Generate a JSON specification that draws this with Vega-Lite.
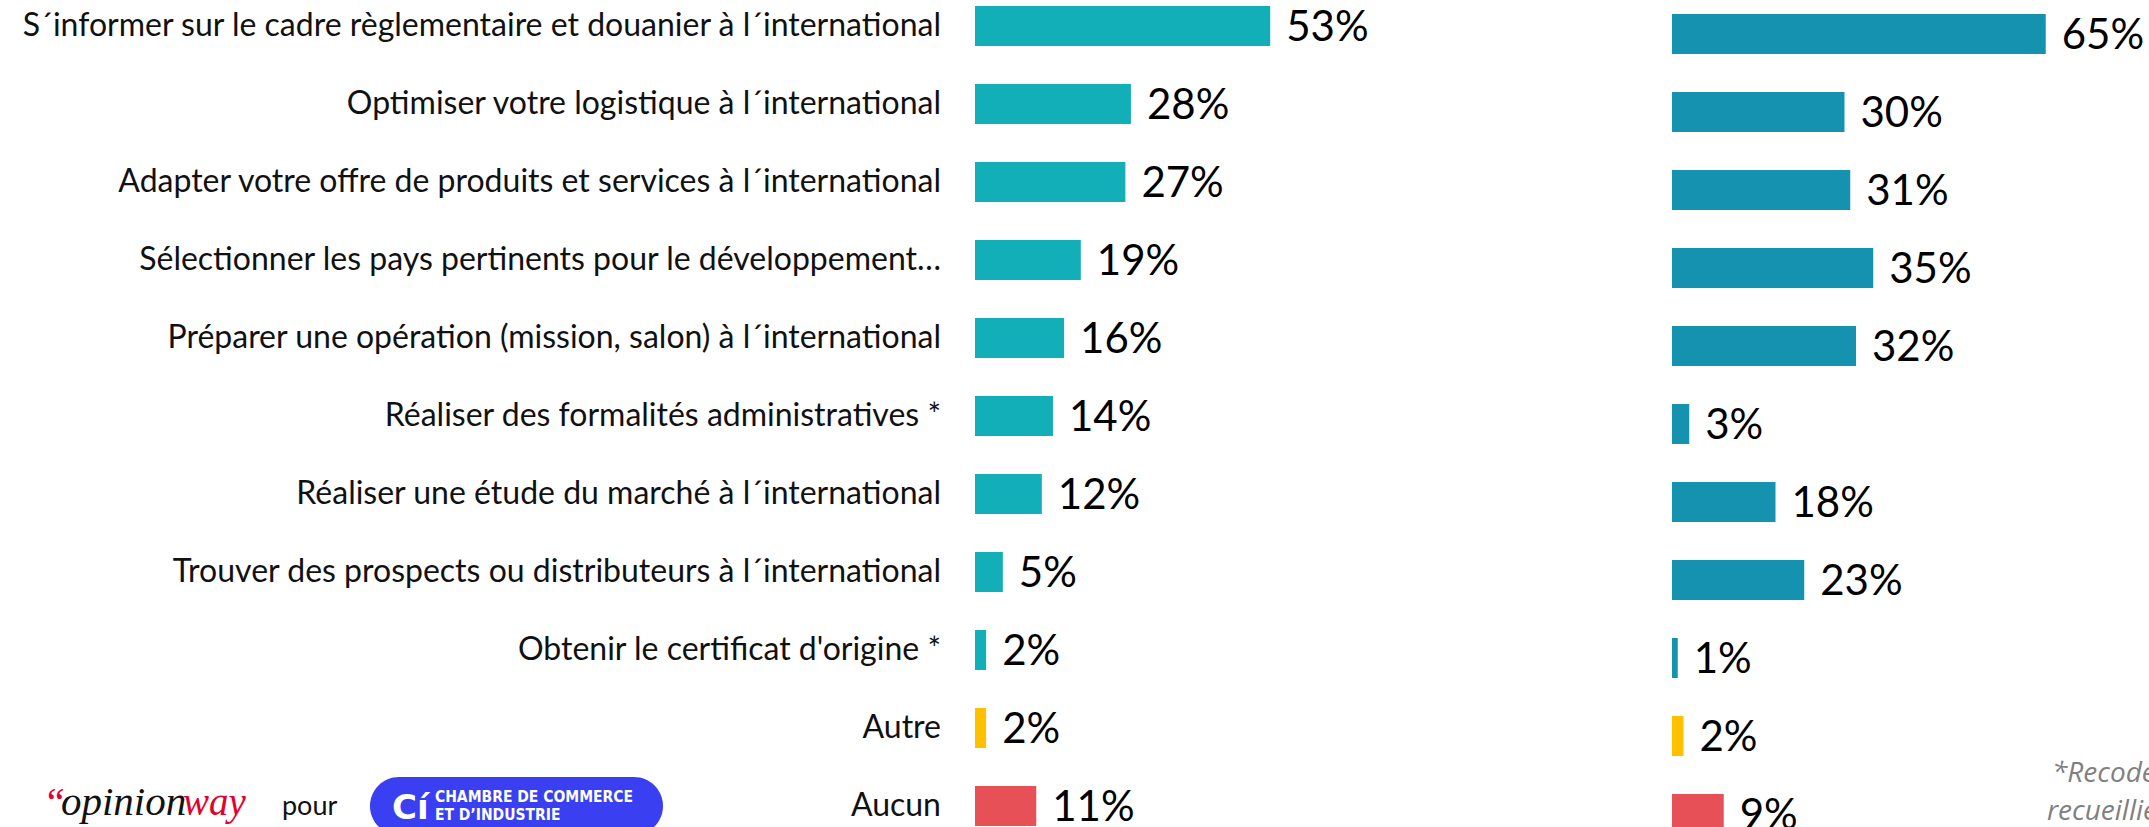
{
  "$schema": "https://vega.github.io/schema/vega-lite/v6.json",
  "width": 2149,
  "height": 827,
  "padding": 0,
  "autosize": {"type": "none"},
  "background": "white",
  "config": {"view": {"stroke": null}, "font": "Lato"},
  "data": {
    "values": [
      {"item": "S´informer sur le cadre règlementaire et douanier à l´international", "kind": "main", "left": 0.53, "right": 0.65},
      {"item": "Optimiser votre logistique à l´international", "kind": "main", "left": 0.28, "right": 0.30},
      {"item": "Adapter votre offre de produits et services à l´international", "kind": "main", "left": 0.27, "right": 0.31},
      {"item": "Sélectionner les pays pertinents pour le développement…", "kind": "main", "left": 0.19, "right": 0.35},
      {"item": "Préparer une opération (mission, salon) à l´international", "kind": "main", "left": 0.16, "right": 0.32},
      {"item": "Réaliser des formalités administratives *", "kind": "main", "left": 0.14, "right": 0.03},
      {"item": "Réaliser une étude du marché à l´international", "kind": "main", "left": 0.12, "right": 0.18},
      {"item": "Trouver des prospects ou distributeurs à l´international", "kind": "main", "left": 0.05, "right": 0.23},
      {"item": "Obtenir le certificat d'origine *", "kind": "main", "left": 0.02, "right": 0.01},
      {"item": "Autre", "kind": "autre", "left": 0.02, "right": 0.02},
      {"item": "Aucun", "kind": "aucun", "left": 0.11, "right": 0.09}
    ]
  },
  "layer": [
    {
      "layer": [
        {
          "mark": {"type": "bar"},
          "encoding": {
            "y": {"field": "item", "type": "nominal", "sort": null, "axis": null,
                  "scale": {"range": [6, 826], "paddingInner": 0.487, "paddingOuter": 0}},
            "x": {"field": "left", "type": "quantitative", "axis": null,
                  "scale": {"domain": [-1.7504, 2.1077], "nice": false, "zero": false}},
            "color": {"field": "kind", "type": "nominal", "legend": null,
                      "scale": {"domain": ["main", "autre", "aucun"], "range": ["#13AFB8", "#FFC000", "#E85058"]}}
          }
        },
        {
          "mark": {"type": "text", "align": "left", "baseline": "middle", "dx": 16, "dy": 2, "fontSize": 42, "color": "#000000"},
          "encoding": {
            "y": {"field": "item", "type": "nominal", "sort": null, "axis": null},
            "x": {"field": "left", "type": "quantitative", "axis": null},
            "text": {"field": "left", "type": "quantitative", "format": ".0%"}
          }
        },
        {
          "mark": {"type": "text", "align": "right", "baseline": "middle", "dx": -34, "fontSize": 32, "color": "#111111"},
          "encoding": {
            "y": {"field": "item", "type": "nominal", "sort": null, "axis": null},
            "x": {"datum": 0, "type": "quantitative", "axis": null},
            "text": {"field": "item", "type": "nominal"}
          }
        },
        {
          "data": {"values": [{}]},
          "mark": {"type": "text", "align": "left", "baseline": "alphabetic", "dy": 9, "fontSize": 40, "font": "Liberation Serif", "fontStyle": "italic", "color": "#E3002B", "text": "“"},
          "encoding": {
            "y": {"datum": "Aucun", "type": "nominal", "axis": null},
            "x": {"datum": -1.673, "type": "quantitative", "axis": null}
          }
        },
        {
          "data": {"values": [{}]},
          "mark": {"type": "text", "align": "left", "baseline": "alphabetic", "dy": 9, "fontSize": 41, "font": "Liberation Serif", "fontStyle": "italic", "color": "#111111", "text": "opinion"},
          "encoding": {
            "y": {"datum": "Aucun", "type": "nominal", "axis": null},
            "x": {"datum": -1.641, "type": "quantitative", "axis": null}
          }
        },
        {
          "data": {"values": [{}]},
          "mark": {"type": "text", "align": "left", "baseline": "alphabetic", "dy": 9, "fontSize": 39, "font": "Liberation Serif", "fontStyle": "italic", "color": "#E3002B", "text": "way"},
          "encoding": {
            "y": {"datum": "Aucun", "type": "nominal", "axis": null},
            "x": {"datum": -1.4219, "type": "quantitative", "axis": null}
          }
        },
        {
          "data": {"values": [{}]},
          "mark": {"type": "text", "align": "left", "baseline": "alphabetic", "dy": 9, "fontSize": 27, "color": "#111111", "text": "pour"},
          "encoding": {
            "y": {"datum": "Aucun", "type": "nominal", "axis": null},
            "x": {"datum": -1.2442, "type": "quantitative", "axis": null}
          }
        },
        {
          "data": {"values": [{}]},
          "mark": {"type": "bar", "height": 58, "cornerRadius": 29, "color": "#3A3FF2"},
          "encoding": {
            "y": {"datum": "Aucun", "type": "nominal", "axis": null},
            "x": {"datum": -1.0862, "type": "quantitative", "axis": null},
            "x2": {"datum": -0.5601}
          }
        },
        {
          "data": {"values": [{}]},
          "mark": {"type": "text", "align": "left", "baseline": "alphabetic", "dy": 13, "fontSize": 34, "fontWeight": "bold", "font": "DejaVu Sans", "color": "#FFFFFF", "text": "Cí"},
          "encoding": {
            "y": {"datum": "Aucun", "type": "nominal", "axis": null},
            "x": {"datum": -1.0467, "type": "quantitative", "axis": null}
          }
        },
        {
          "data": {"values": [{}]},
          "mark": {"type": "text", "align": "left", "baseline": "alphabetic", "dy": -4, "fontSize": 15.5, "fontWeight": "bold", "font": "DejaVu Sans Condensed", "color": "#FFFFFF", "text": "CHAMBRE DE COMMERCE"},
          "encoding": {
            "y": {"datum": "Aucun", "type": "nominal", "axis": null},
            "x": {"datum": -0.9695, "type": "quantitative", "axis": null}
          }
        },
        {
          "data": {"values": [{}]},
          "mark": {"type": "text", "align": "left", "baseline": "alphabetic", "dy": 14, "fontSize": 15.5, "fontWeight": "bold", "font": "DejaVu Sans Condensed", "color": "#FFFFFF", "text": "ET D’INDUSTRIE"},
          "encoding": {
            "y": {"datum": "Aucun", "type": "nominal", "axis": null},
            "x": {"datum": -0.9695, "type": "quantitative", "axis": null}
          }
        }
      ]
    },
    {
      "layer": [
        {
          "mark": {"type": "bar"},
          "encoding": {
            "y": {"field": "item", "type": "nominal", "sort": null, "axis": null,
                  "scale": {"range": [14, 834], "paddingInner": 0.487, "paddingOuter": 0}},
            "x": {"field": "right", "type": "quantitative", "axis": null,
                  "scale": {"domain": [-2.908, 0.8296], "nice": false, "zero": false}},
            "color": {"field": "kind", "type": "nominal", "legend": null,
                      "scale": {"domain": ["main", "autre", "aucun"], "range": ["#1492AF", "#FFC000", "#E85058"]}}
          }
        },
        {
          "mark": {"type": "text", "align": "left", "baseline": "middle", "dx": 16, "dy": 2, "fontSize": 42, "color": "#000000"},
          "encoding": {
            "y": {"field": "item", "type": "nominal", "sort": null, "axis": null},
            "x": {"field": "right", "type": "quantitative", "axis": null},
            "text": {"field": "right", "type": "quantitative", "format": ".0%"}
          }
        },
        {
          "data": {"values": [{}]},
          "mark": {"type": "text", "align": "left", "baseline": "alphabetic", "dy": -32, "fontSize": 28, "fontStyle": "italic", "font": "Open Sans", "color": "#808080", "text": "*Recodé à partir des réponses"},
          "encoding": {
            "y": {"datum": "Aucun", "type": "nominal", "axis": null},
            "x": {"datum": 0.6607, "type": "quantitative", "axis": null}
          }
        },
        {
          "data": {"values": [{}]},
          "mark": {"type": "text", "align": "left", "baseline": "alphabetic", "dy": 6, "fontSize": 28, "fontStyle": "italic", "font": "Open Sans", "color": "#808080", "text": "recueillies"},
          "encoding": {
            "y": {"datum": "Aucun", "type": "nominal", "axis": null},
            "x": {"datum": 0.6522, "type": "quantitative", "axis": null}
          }
        }
      ]
    }
  ],
  "resolve": {"scale": {"x": "independent", "y": "independent", "color": "independent"}}
}
